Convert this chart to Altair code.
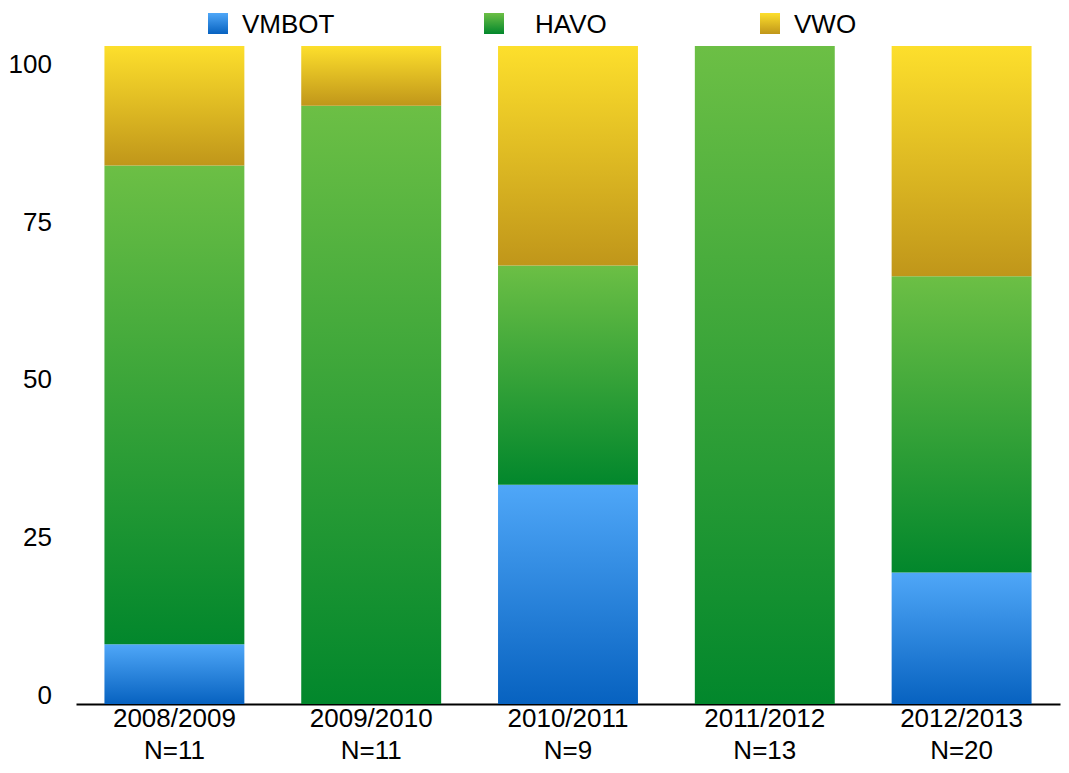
import altair as alt
import pandas as pd

# ---- data ----
years = ["2008/2009", "2009/2010", "2010/2011", "2011/2012", "2012/2013"]
n_counts = [11, 11, 9, 13, 20]
vmbot = [9.09, 0.0, 33.33, 0.0, 20.0]
havo = [72.73, 90.91, 33.33, 100.0, 45.0]
vwo = [18.18, 9.09, 33.33, 0.0, 35.0]
series = ["VMBOT", "HAVO", "VWO"]
y_ticks = [0, 25, 50, 75, 100]

# gradient colours (top, bottom)
grad_colors = {
    "VMBOT": ("#4FA7F8", "#0762C0"),
    "HAVO": ("#6CBF45", "#02872C"),
    "VWO": ("#FDDF2C", "#C0961A"),
}

FONT = "Liberation Sans"

rows = []
for i, y in enumerate(years):
    label = f"{y}|N={n_counts[i]}"
    for k, (s, vals) in enumerate(zip(series, [vmbot, havo, vwo])):
        rows.append({"label": label, "series": s, "order": k, "value": vals[i]})
df = pd.DataFrame(rows)
labels_order = [f"{y}|N={n}" for y, n in zip(years, n_counts)]


def grad(s):
    top, bottom = grad_colors[s]
    return alt.Gradient(
        gradient="linear",
        stops=[alt.GradientStop(color=top, offset=0), alt.GradientStop(color=bottom, offset=1)],
        x1=0, x2=0, y1=0, y2=1,
    )


x_enc = alt.X(
    "label:N",
    sort=labels_order,
    scale=alt.Scale(paddingInner=0.289, paddingOuter=0.1445),
    axis=alt.Axis(
        title=None, labelAngle=0, ticks=False, grid=False,
        domainColor="#000000", domainWidth=2,
        labelFont=FONT, labelFontSize=26, labelColor="#000000",
        labelExpr="split(datum.label, '|')", labelLineHeight=32, labelPadding=1,
    ),
)
y_enc = alt.Y(
    "y1:Q",
    scale=alt.Scale(domain=[0, 100], nice=False),
    axis=alt.Axis(
        title=None, values=y_ticks, labels=False, ticks=False, domain=False,
        gridColor="#cccccc", gridWidth=1,
    ),
)

base = alt.Chart(df).transform_stack(
    stack="value", groupby=["label"], as_=["y0", "y1"], sort=[alt.SortField("order")]
)

bar_layers = []
for s in series:
    bar_layers.append(
        base.transform_filter(alt.datum.series == s)
        .mark_bar(color=grad(s))
        .encode(x=x_enc, y=y_enc, y2="y0:Q")
    )

# y tick labels (as drawn in the reference, slightly compressed relative to the grid)
ylab = (
    alt.Chart(pd.DataFrame({"v": y_ticks}))
    .transform_calculate(pos="1.216 + 0.959 * datum.v")
    .mark_text(align="right", baseline="middle", font=FONT, fontSize=26, color="#000000")
    .encode(y=alt.Y("pos:Q", axis=None), x=alt.value(-24), text="v:Q")
)

# manual legend with gradient squares
legend_sym_x = [132, 408, 684]
legend_txt_x = [166, 459, 718]
legend_layers = []
for s, sx, tx in zip(series, legend_sym_x, legend_txt_x):
    d = pd.DataFrame({"name": [s]})
    legend_layers.append(
        alt.Chart(d).mark_rect(color=grad(s)).encode(
            x=alt.value(sx), x2=alt.value(sx + 20), y=alt.value(-33), y2=alt.value(-12)
        )
    )
    legend_layers.append(
        alt.Chart(d).mark_text(align="left", baseline="middle", font=FONT, fontSize=26, color="#000000")
        .encode(text="name:N", x=alt.value(tx), y=alt.value(-21))
    )

chart = (
    alt.layer(*bar_layers, ylab, *legend_layers)
    .properties(
        width=984, height=658,
        padding={"left": 68, "top": 38, "right": 1, "bottom": 61},
        autosize=alt.AutoSizeParams(type="none"),
        background="white",
    )
    .configure_view(stroke=None)
)

chart.save("out.html", embed_options={"renderer": "svg", "actions": False})
